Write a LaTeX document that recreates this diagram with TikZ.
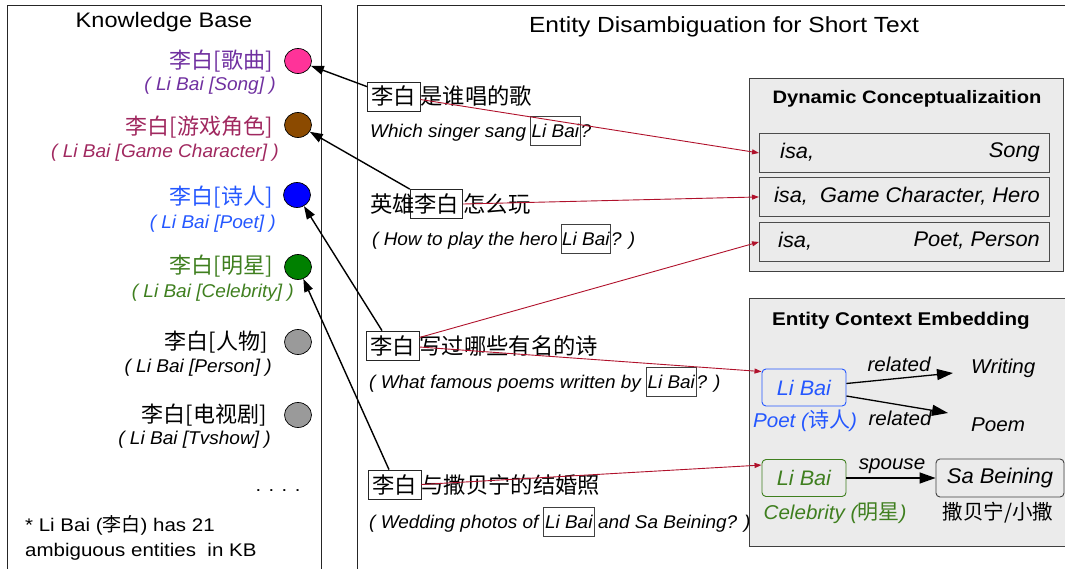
\documentclass[tikz,border=0pt]{standalone}
\usepackage{fontspec}
\setmainfont{Liberation Sans}[FakeStretch=1.12]
\newfontfamily\itf{Liberation Sans}[FakeStretch=1.03]
\newfontfamily\cjk{Noto Sans CJK SC}
\usetikzlibrary{arrows.meta,calc,shapes.geometric}
\newcommand\myfs[1]{\fontsize{#1pt}{#1pt}\selectfont}
\definecolor{songc}{HTML}{7030A0}
\definecolor{gamec}{HTML}{A0285F}
\definecolor{poetc}{HTML}{2457FF}
\definecolor{celebc}{HTML}{3F7F1F}
\definecolor{pinkc}{HTML}{FF3399}
\definecolor{brownc}{HTML}{8B4A00}
\definecolor{bluec}{HTML}{0000FF}
\definecolor{greenc}{HTML}{008000}
\definecolor{grayc}{HTML}{9A9A9A}
\definecolor{redc}{HTML}{B0112B}
\definecolor{panelc}{HTML}{EBEBEB}
\begin{document}
\begin{tikzpicture}[x=1pt,y=-1pt,
  frame/.style={draw=black!85, line width=1.1pt, inner sep=0pt, anchor=north west},
  panel/.style={draw=black!75, line width=1pt, fill=panelc, inner sep=0pt, anchor=north west},
  rowbox/.style={draw=black!70, line width=0.9pt, fill=panelc, inner sep=0pt, anchor=north west, minimum width=290pt, minimum height=39pt},
  dot/.style={ellipse, draw=black, line width=0.7pt, minimum width=27pt, minimum height=25pt, inner sep=0pt, fill=#1},
  kbcn/.style={font=\cjk\myfs{22}, anchor=east, inner sep=0pt, text height=16.7pt, text depth=0pt, text=#1},
  kben/.style={font=\itf\itshape\myfs{18.5}, anchor=east, inner sep=0pt, text height=13.3pt, text depth=0pt, text=#1},
  cnsent/.style={font=\cjk\myfs{22.3}, inner sep=0pt, text height=17pt, text depth=0pt},
  cnbox/.style={cnsent, draw=black!85, line width=0.8pt, inner xsep=4pt, inner ysep=6pt},
  ensent/.style={font=\itf\itshape\myfs{18.4}, inner sep=0pt, text height=13.2pt, text depth=0pt},
  enbox/.style={ensent, draw=black!75, line width=0.8pt, inner xsep=1pt, inner ysep=7.9pt},
  rowtxt/.style={font=\itf\itshape\myfs{21.2}, inner sep=0pt},
  entnode/.style={rounded corners=4pt, line width=0.9pt, minimum width=84pt, minimum height=37pt, inner sep=0pt, font=\itf\itshape\myfs{21}, fill=panelc},
  lbl/.style={font=\itf\itshape\myfs{20}, inner sep=0pt},
  blkarr/.style={draw=black, line width=1.4pt, -{Triangle[length=13pt,width=9pt]}},
  redarr/.style={draw=redc, line width=0.9pt, -{Triangle[length=7pt,width=5pt]}},
  relarr/.style={draw=black, line width=1.3pt, -{Triangle[length=16pt,width=11pt]}}
]
\useasboundingbox (0,0) rectangle (1065,569);
% frames
\node[frame, minimum width=314pt, minimum height=600pt] (kb) at (7,5) {};
\node[frame, minimum width=730pt, minimum height=600pt] (mid) at (357,5) {};
\node[font=\myfs{21}] (kbt) at (164,22) {Knowledge Base};
\node[font=\myfs{21.9}] (mt) at (724,27) {Entity Disambiguation for Short Text};

% knowledge base entries
\node[kbcn=songc] (k1) at (273,60) {李白[歌曲]};
\node[kben=songc] (k1e) at (276,84) {( Li Bai [Song] )};
\node[kbcn=gamec] (k2) at (273,126) {李白[游戏角色]};
\node[kben=gamec] (k2e) at (279,151) {( Li Bai [Game Character] )};
\node[kbcn=poetc] (k3) at (273,196) {李白[诗人]};
\node[kben=poetc] (k3e) at (276,222) {( Li Bai [Poet] )};
\node[kbcn=celebc] (k4) at (273,265) {李白[明星]};
\node[kben=celebc] (k4e) at (294,291) {( Li Bai [Celebrity] )};
\node[kbcn=black] (k5) at (268,341) {李白[人物]};
\node[kben=black] (k5e) at (272,366) {( Li Bai [Person] )};
\node[kbcn=black] (k6) at (267,414) {李白[电视剧]};
\node[kben=black] (k6e) at (271,438) {( Li Bai [Tvshow] )};
\node[dot=pinkc] (c1) at (298,61) {};
\node[dot=brownc] (c2) at (298,125) {};
\node[dot=bluec] (c3) at (297,195) {};
\node[dot=greenc] (c4) at (298,267) {};
\node[dot=grayc] (c5) at (298,342) {};
\node[dot=grayc] (c6) at (298,415) {};
\node[font=\myfs{18}] (more) at (278,491) {. . . .};
\node[font=\myfs{18.3}, anchor=west, inner sep=0pt] (n1) at (25,525) {* Li Bai ({\cjk\myfs{19}李白}) has 21};
\node[font=\myfs{18.3}, anchor=west, inner sep=0pt] (n2) at (25,552) {ambiguous entities\ \ in KB};

% sentence 1
\node[cnbox, anchor=west] (b1) at (367,96.5) {李白};
\node[cnsent, anchor=west] (r1) at (b1.east) {是谁唱的歌};
\node[ensent, anchor=west] (e1) at (370,130.5) {Which singer sang};
\node[enbox, anchor=west] (eb1) at ([xshift=4pt]e1.east) {Li Bai};
\node[ensent, anchor=west] (q1) at (eb1.east) {?};
% sentence 2
\node[cnbox] (b2) at (436.5,204) {李白};
\node[cnsent, anchor=east] (p2) at ([xshift=5pt]b2.west) {英雄};
\node[cnsent, anchor=west] (r2) at (b2.east) {怎么玩};
\node[ensent, anchor=west] (e2) at (372,238.5) {( How to play the hero};
\node[enbox, anchor=west] (eb2) at ([xshift=3pt]e2.east) {Li Bai};
\node[ensent, anchor=west] (q2) at (eb2.east) {? )};
% sentence 3
\node[cnbox, anchor=west] (b3) at (366,345.5) {李白};
\node[cnsent, anchor=west] (r3) at (b3.east) {写过哪些有名的诗};
\node[ensent, anchor=west] (e3) at (369,382) {( What famous poems written by};
\node[enbox, anchor=west] (eb3) at ([xshift=5pt]e3.east) {Li Bai};
\node[ensent, anchor=west] (q3) at (eb3.east) {? )};
% sentence 4
\node[cnbox, anchor=west] (b4) at (368,484.5) {李白};
\node[cnsent, anchor=west] (r4) at (b4.east) {与撒贝宁的结婚照};
\node[ensent, anchor=west] (e4) at (369,522) {( Wedding photos of};
\node[enbox, anchor=west, inner xsep=2pt] (eb4) at ([xshift=4pt]e4.east) {Li Bai};
\node[ensent, anchor=west] (q4) at ([xshift=3pt]eb4.east) {and Sa Beining? )};

% dynamic conceptualization
\node[panel, minimum width=314pt, minimum height=193pt] (dc) at (749,78) {};
\node[font=\bfseries\myfs{18}] (dct) at (907,99) {Dynamic Conceptualizaition};
\node[rowbox] (row1) at (759,133) {};
\node[rowbox] (row2) at (759,177) {};
\node[rowbox] (row3) at (759,222) {};
\node[rowtxt, anchor=west] (r1a) at (780,152.5) {isa,};
\node[rowtxt, anchor=east] (r1b) at (1040,152.5) {Song};
\node[rowtxt, anchor=east] (r2a) at (1040,196.5) {isa,\ \ Game Character, Hero};
\node[rowtxt, anchor=west] (r3a) at (778,241) {isa,};
\node[rowtxt, anchor=east] (r3b) at (1040,241) {Poet, Person};

% entity context embedding
\node[panel, minimum width=330pt, minimum height=248pt] (ece) at (749,298) {};
\node[font=\bfseries\myfs{18.4}] (ecet) at (901,321) {Entity Context Embedding};
\node[entnode, draw=poetc, text=poetc] (lb1) at (804,387.5) {Li Bai};
\node[lbl, text=poetc] (pl) at (805,421) {Poet ({\cjk\myfs{21}诗人})};
\node[lbl, anchor=west] (wr) at (971,368) {Writing};
\node[lbl, anchor=west] (pm) at (971,425) {Poem};
\node[lbl] (rel1) at (899,364) {related};
\node[lbl] (rel2) at (900,418) {related};
\coordinate (t1) at (953,373);
\coordinate (t2) at (948,413);
\draw[relarr] ($(lb1.east)+(0,-4)$) -- (t1);
\draw[relarr] ($(lb1.east)+(0,8.5)$) -- (t2);
\node[entnode, draw=celebc, text=celebc] (lb2) at (804,478) {Li Bai};
\node[lbl, text=celebc] (cl) at (835,513) {Celebrity ({\cjk\myfs{21}明星})};
\node[entnode, draw=black!75, minimum width=128pt, minimum height=38pt, font=\itf\itshape\myfs{21.3}] (sb) at (1000,478) {Sa Beining};
\node[font=\cjk\myfs{20.5}] (sbc) at (998,513) {撒贝宁/小撒};
\node[lbl] (sp) at (892,466) {spouse};
\draw[relarr] (lb2.east) -- (sb.west);

% connectors
\draw[blkarr] ($(b1.north west)+(0,5)$) -- (c1);
\draw[blkarr] (b2.north west) -- (c2);
\draw[blkarr] ($(b3.north west)+(16,0)$) -- (c3);
\draw[blkarr] ($(b4.north west)+(21,0)$) -- (c4);
\draw[redarr] ($(b1.east)+(0,3)$) -- (row1.west);
\draw[redarr] (b2.east) -- (row2.west);
\draw[redarr] ($(b3.east)+(0,-8)$) -- (row3.west);
\draw[redarr] ($(b3.east)+(0,1.5)$) -- ($(lb1.north west)+(0,3)$);
\draw[redarr] (b4.east) -- ($(lb2.north west)+(0,6)$);
\end{tikzpicture}
\end{document}
